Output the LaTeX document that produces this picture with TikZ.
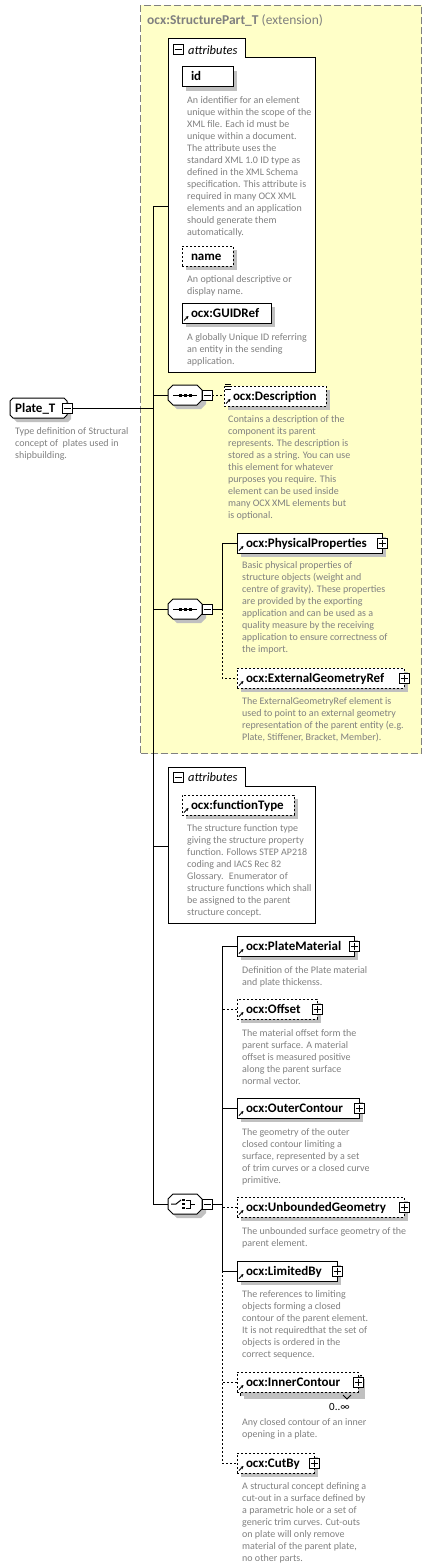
\documentclass[tikz,border=0pt]{standalone}
\usepackage{fontspec}
\setmainfont{Carlito}
\usetikzlibrary{shadows,arrows.meta}
\definecolor{ylw}{RGB}{255,255,200}
\definecolor{bordergray}{RGB}{128,128,128}
\definecolor{desccol}{RGB}{128,128,128}
\definecolor{shadowgray}{RGB}{192,192,192}
\newcommand\elemfont{\fontsize{13}{15}\selectfont\bfseries}
\newcommand\descfont{\fontsize{10}{12}\selectfont}
\newcommand\dlines[1]{\begin{tabular}[t]{@{}l@{}}#1\end{tabular}}
\tikzset{
  shd/.style={drop shadow={shadow xshift=4pt, shadow yshift=-4pt, fill=shadowgray, opacity=1}},
  elembox/.style={draw=black, line width=1pt, fill=white, anchor=north west, inner xsep=9pt, inner ysep=0pt,
    minimum height=20pt, text height=9pt, text depth=1pt, font=\elemfont, align=left, outer sep=0pt, shd},
  optional/.style={dash pattern=on 2pt off 2pt},
  desc/.style={anchor=base west, inner sep=0pt, font=\descfont, text=desccol},
  conn/.style={draw=black, line width=1pt},
  signbox/.style={draw=black, line width=1pt, fill=white, minimum size=10pt, inner sep=0pt, outer sep=0pt},
  plusbox/.style={signbox, path picture={
     \draw[line width=1pt] ([xshift=-3.5pt]path picture bounding box.center) -- ([xshift=3.5pt]path picture bounding box.center);
     \draw[line width=1pt] ([yshift=-3.5pt]path picture bounding box.center) -- ([yshift=3.5pt]path picture bounding box.center);}},
  minusbox/.style={signbox, path picture={
     \draw[line width=1pt] ([xshift=-3.5pt]path picture bounding box.center) -- ([xshift=3.5pt]path picture bounding box.center);}},
  comp/.style={draw=none, minimum width=34pt, minimum height=20pt, inner sep=0pt, outer sep=0pt, anchor=west},
  compshape/.style={draw=black, line width=1pt, fill=white, shd},
  attrlabel/.style={anchor=base west, inner sep=0pt, font=\fontsize{12.5}{14}\selectfont\itshape},
}
\newcommand\octa[2]{% node name, chamfer
  \draw[compshape] ([xshift=#2pt]#1.north west) -- ([xshift=-#2pt]#1.north east) -- ([yshift=-#2pt]#1.north east)
    -- ([yshift=#2pt]#1.south east) -- ([xshift=-#2pt]#1.south east) -- ([xshift=#2pt]#1.south west)
    -- ([yshift=#2pt]#1.south west) -- ([yshift=-#2pt]#1.north west) -- cycle;}
\newcommand\refarrow[1]{%
  \draw[line width=1pt, -{Stealth[length=3pt,width=3pt]}] ([xshift=2pt,yshift=2.5pt]#1.south west) -- ++(4.5,-4.5);}
\newcommand\seqicon[1]{%
  \draw[line width=1pt] ([xshift=-12pt]#1.center) -- ([xshift=12pt]#1.center);
  \foreach \dx in {-5,0,5}{\fill ([xshift=\dx pt]#1.center) +(-1.5,-1.5) rectangle +(1.5,1.5);}}
\newcommand\choiceicon[1]{%
  \draw[line width=1pt] ([xshift=-14pt]#1.center) -- ([xshift=-9pt]#1.center) -- ([xshift=-4pt,yshift=4pt]#1.center);
  \foreach \dy in {-4,0,4}{\fill ([xshift=-1.5pt,yshift=\dy pt]#1.center) +(-1.5,-1.3) rectangle +(1.5,1.3);}
  \draw[line width=1pt] ([xshift=1pt,yshift=4pt]#1.center) -- ([xshift=5pt,yshift=4pt]#1.center) -- ([xshift=5pt,yshift=-4pt]#1.center) -- ([xshift=1pt,yshift=-4pt]#1.center);
  \draw[line width=1pt] ([xshift=5pt]#1.center) -- ([xshift=10pt]#1.center);}
\begin{document}
\begin{tikzpicture}[x=1pt,y=-1pt]
\useasboundingbox (0,0) rectangle (432,1568);
% extension area
\node[draw=bordergray, line width=1pt, dash pattern=on 7pt off 3pt, fill=ylw, anchor=north west,
  minimum width=281pt, minimum height=748pt, inner sep=0pt] (ext) at (140,5) {};
\node[anchor=base west, inner sep=0pt, text=bordergray, font=\fontsize{13.5}{15}\selectfont] (exttitle) at (147,24.5)
  {\textbf{ocx:StructurePart\_T} (extension)};

% attributes group 1
\draw[line width=1pt, fill=white] (168,372) -- (168,39) -- (245,39) -- (245,58) -- (315,58) -- (315,372) -- cycle;
\node[draw=none, anchor=north west, minimum width=147pt, minimum height=314pt, inner sep=0pt, outer sep=0pt] (attr1) at (168,58) {};
\node[minusbox] (attr1m) at (178,50) {};
\node[attrlabel] (attr1t) at (188,54.5) {attributes};

\node[elembox, text width=33pt] (id) at (182,67) {id};
\node[desc] (iddesc) at (187,103.5) {\dlines{An identifier for an element\\unique within the scope of the\\XML file. Each id must be\\unique within a document.\\The attribute uses the\\standard XML 1.0 ID type as\\defined in the XML Schema\\specification. This attribute is\\required in many OCX XML\\elements and an application\\should generate them\\automatically.}};
\node[elembox, optional, text width=33pt] (name) at (182,246) {name};
\node[desc] (namedesc) at (187,282) {\dlines{An optional descriptive or\\display name.}};
\node[elembox, text width=71pt] (guid) at (182,303) {ocx:GUIDRef};
\refarrow{guid}
\node[desc] (guiddesc) at (187,340) {\dlines{A globally Unique ID referring\\an entity in the sending\\application.}};

% Plate_T
\node[draw=none, anchor=north west, minimum width=57pt, minimum height=20pt, inner sep=0pt, outer sep=0pt] (plate) at (10,398) {};
\octa{plate}{3}
\node[anchor=base west, inner sep=0pt, font=\elemfont] (platet) at (15,412) {Plate\_T};
\node[minusbox] (platem) at (plate.east) {};
\node[desc] (platedesc) at (15,434) {\dlines{Type definition of Structural\\concept of~ plates used in\\shipbuilding.}};

% trunk
\coordinate (j1) at (153,206);
\coordinate (j2) at (153,395);
\coordinate (j3) at (153,609);
\coordinate (j4) at (153,846);
\coordinate (j5) at (153,1204);
\draw[conn] (j1) -- (j5);
\draw[conn] (platem.east) -- (platem.east -| j1);
\draw[conn] (j1) -- (j1 -| attr1.west);

% sequence 1
\node[comp] (seq1) at (168,395) {};
\octa{seq1}{5}
\seqicon{seq1}
\node[minusbox, anchor=west] (seq1m) at (seq1.east) {};
\draw[conn] (j2) -- (seq1.west);
\node[elembox, optional, text width=84pt, inner xsep=9pt] (descr) at (224,386) {ocx:Description};
\refarrow{descr}
\foreach \dy in {-2,0.5,3}{\draw[line width=0.8pt] ([xshift=1pt,yshift=-\dy pt]descr.north west) -- ++(6,0);}
\draw[conn, optional] (seq1m.east) -- (seq1m.east -| descr.west);
\node[desc] (descrdesc) at (228,422) {\dlines{Contains a description of the\\component its parent\\represents. The description is\\stored as a string. You can use\\this element for whatever\\purposes you require. This\\element can be used inside\\many OCX XML elements but\\is optional.}};

% sequence 2
\node[comp] (seq2) at (168,609) {};
\octa{seq2}{5}
\seqicon{seq2}
\node[minusbox, anchor=west] (seq2m) at (seq2.east) {};
\draw[conn] (j3) -- (seq2.west);
\coordinate (v2) at (222,609);
\draw[conn] (seq2m.east) -- (v2);
\node[elembox, text width=127pt] (pp) at (237,533) {ocx:PhysicalProperties};
\refarrow{pp}
\node[plusbox] (ppp) at (pp.east) {};
\node[desc] (ppdesc) at (242,568) {\dlines{Basic physical properties of\\structure objects (weight and\\centre of gravity). These properties\\are provided by the exporting\\application and can be used as a\\quality measure by the receiving\\application to ensure correctness of\\the import.}};
\node[elembox, optional, text width=149pt] (egr) at (237,668) {ocx:ExternalGeometryRef};
\refarrow{egr}
\node[plusbox] (egrp) at (egr.east) {};
\node[desc] (egrdesc) at (242,704) {\dlines{The ExternalGeometryRef element is\\used to point to an external geometry\\representation of the parent entity (e.g.\\Plate, Stiffener, Bracket, Member).}};
\draw[conn] (v2) |- (pp.west);
\draw[conn, optional] (v2) |- (egr.west);

% attributes group 2
\draw[line width=1pt, fill=white] (168,923) -- (168,767) -- (245,767) -- (245,786) -- (315,786) -- (315,923) -- cycle;
\node[draw=none, anchor=north west, minimum width=147pt, minimum height=137pt, inner sep=0pt, outer sep=0pt] (attr2) at (168,786) {};
\node[minusbox] (attr2m) at (178,777) {};
\node[attrlabel] (attr2t) at (188,781.5) {attributes};
\draw[conn] (j4) -- (j4 -| attr2.west);
\node[elembox, optional, text width=94pt] (ft) at (182,795) {ocx:functionType};
\refarrow{ft}
\node[desc] (ftdesc) at (187,831) {\dlines{The structure function type\\giving the structure property\\function. Follows STEP AP218\\coding and IACS Rec 82\\Glossary.~ Enumerator of\\structure functions which shall\\be assigned to the parent\\structure concept.}};

% choice
\node[comp] (seq3) at (168,1204) {};
\octa{seq3}{5}
\choiceicon{seq3}
\node[minusbox, anchor=west] (seq3m) at (seq3.east) {};
\draw[conn] (j5) -- (seq3.west);
\coordinate (v3) at (222,1204);
\draw[conn] (seq3m.east) -- (v3);

\node[elembox, text width=99pt] (pm) at (237,936) {ocx:PlateMaterial};
\refarrow{pm}
\node[plusbox] (pmp) at (pm.east) {};
\node[desc] (pmdesc) at (242,973) {\dlines{Definition of the Plate material\\and plate thickenss.}};

\node[elembox, optional, text width=62pt] (off) at (237,999) {ocx:Offset};
\refarrow{off}
\node[plusbox] (offp) at (off.east) {};
\node[desc] (offdesc) at (242,1036) {\dlines{The material offset form the\\parent surface. A material\\offset is measured positive\\along the parent surface\\normal vector.}};

\node[elembox, text width=104pt] (oc) at (237,1098) {ocx:OuterContour};
\refarrow{oc}
\node[plusbox] (ocp) at (oc.east) {};
\node[desc] (ocdesc) at (242,1135) {\dlines{The geometry of the outer\\closed contour limiting a\\surface, represented by a set\\of trim curves or a closed curve\\primitive.}};

\node[elembox, optional, text width=149pt] (ub) at (237,1197) {ocx:UnboundedGeometry};
\refarrow{ub}
\node[plusbox] (ubp) at (ub.east) {};
\node[desc] (ubdesc) at (242,1234) {\dlines{The unbounded surface geometry of the\\parent element.}};

\node[elembox, text width=82pt] (lb) at (237,1261) {ocx:LimitedBy};
\refarrow{lb}
\node[plusbox] (lbp) at (lb.east) {};
\node[desc] (lbdesc) at (242,1297) {\dlines{The references to limiting\\objects forming a closed\\contour of the parent element.\\It is not requiredthat the set of\\objects is ordered in the\\correct sequence.}};

\node[elembox, optional, text width=103pt] (icback) at (240,1375) {\phantom{ocx:InnerContour}};
\node[elembox, optional, text width=103pt, drop shadow={opacity=0}] (ic) at (237,1372) {ocx:InnerContour};
\refarrow{ic}
\node[plusbox] (icp) at (ic.east) {};
\draw[line width=0.8pt] (343,1395) -- (347,1399) -- (351,1395);
\node[anchor=base west, inner sep=0pt, font=\fontsize{11}{13}\selectfont] (icmult) at (329,1410) {0..∞};
\node[desc] (icdesc) at (242,1425) {\dlines{Any closed contour of an inner\\opening in a plate.}};

\node[elembox, optional, text width=59pt] (cb) at (237,1453) {ocx:CutBy};
\refarrow{cb}
\node[plusbox] (cbp) at (cb.east) {};
\node[desc] (cbdesc) at (242,1489) {\dlines{A structural concept defining a\\cut-out in a surface defined by\\a parametric hole or a set of\\generic trim curves. Cut-outs\\on plate will only remove\\material of the parent plate,\\no other parts.}};

\draw[conn] (v3) |- (pm.west);
\draw[conn, optional] (v3) |- (off.west);
\draw[conn] (v3) |- (oc.west);
\draw[conn, optional] (v3) |- (ub.west);
\draw[conn] (v3) |- (lb.west);
\draw[conn, optional] (lb.west -| v3) |- (ic.west);
\draw[conn, optional] (lb.west -| v3) |- (cb.west);
\end{tikzpicture}
\end{document}
